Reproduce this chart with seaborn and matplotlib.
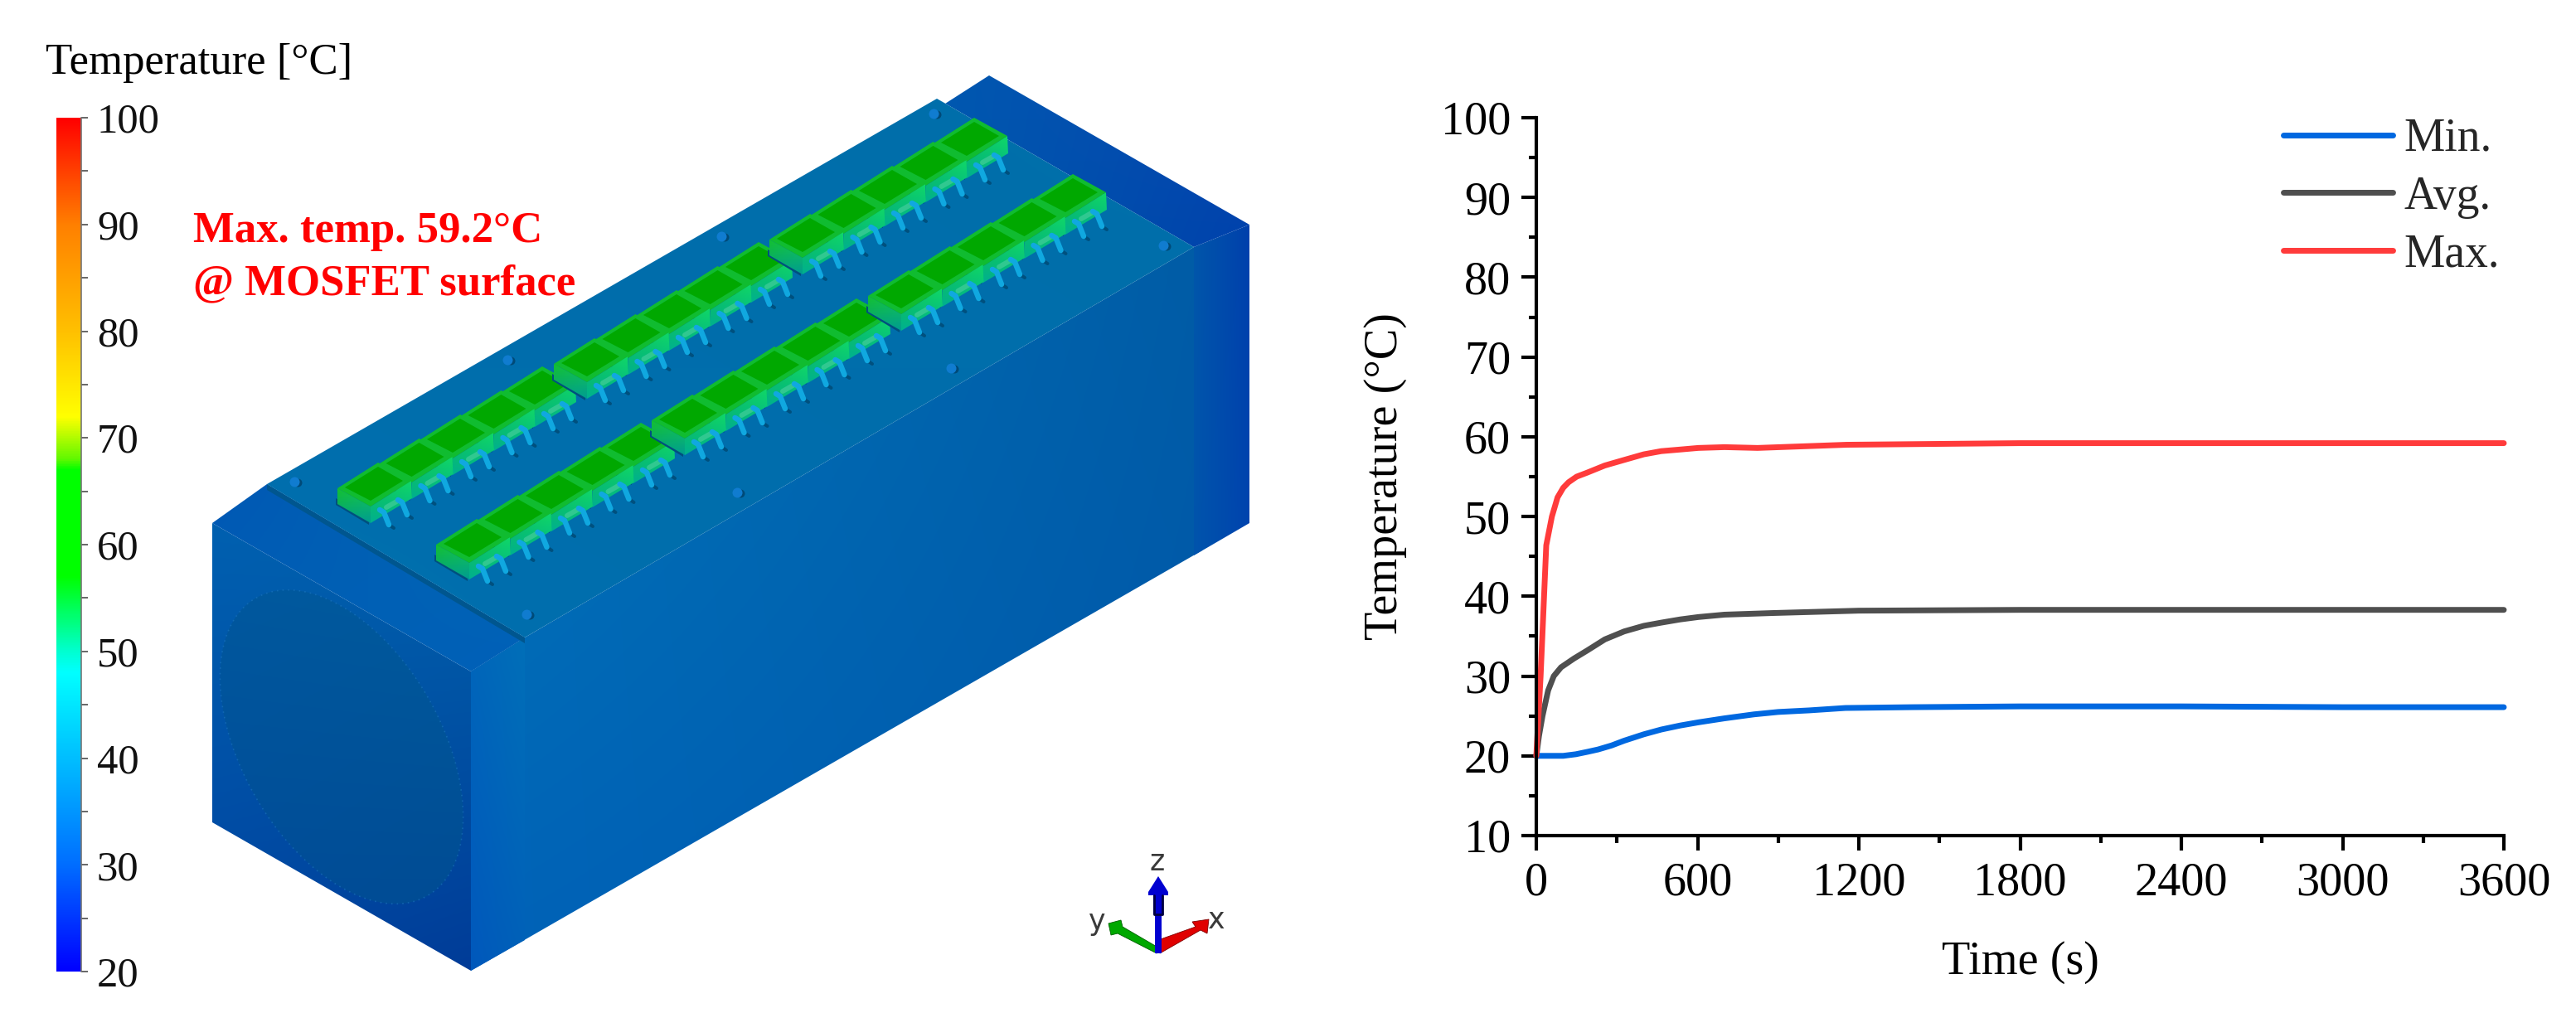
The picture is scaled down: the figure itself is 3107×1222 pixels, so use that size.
import numpy as np
import pandas as pd
import matplotlib
matplotlib.use("Agg")
import matplotlib.pyplot as plt
from matplotlib.colors import LinearSegmentedColormap, to_rgb
from matplotlib.patches import Polygon
from matplotlib.ticker import MultipleLocator
import seaborn as sns

# ---------- data ----------
min_t = [0, 50, 100, 147, 190, 230, 280, 327, 400, 465, 535, 603, 700, 810, 900, 1016, 1150, 1400, 1800, 2400, 3000, 3600]
min_v = [20.0, 20.0, 20.0, 20.2, 20.5, 20.8, 21.3, 21.9, 22.7, 23.3, 23.8, 24.2, 24.7, 25.2, 25.5, 25.7, 26.0, 26.1, 26.2, 26.2, 26.1, 26.1]
avg_t = [0, 10, 23, 44, 65, 92, 140, 189, 255, 327, 400, 465, 535, 603, 700, 878, 1200, 1800, 2400, 3000, 3600]
avg_v = [20.0, 22.5, 25.0, 28.2, 30.0, 31.1, 32.2, 33.2, 34.6, 35.6, 36.3, 36.7, 37.1, 37.4, 37.7, 37.9, 38.2, 38.3, 38.3, 38.3, 38.3]
max_t = [0, 8, 16, 37, 58, 79, 100, 120, 150, 189, 255, 327, 400, 465, 535, 603, 700, 823, 1155, 1800, 2400, 3000, 3600]
max_v = [20.0, 25.0, 30.0, 46.4, 50.0, 52.4, 53.6, 54.3, 55.0, 55.5, 56.4, 57.1, 57.8, 58.2, 58.4, 58.6, 58.7, 58.6, 59.0, 59.2, 59.2, 59.2, 59.2]
series_names = ["Min.", "Avg.", "Max."]
series_colors = ["#0068E0", "#4F4F4F", "#FF3B3B"]
x_ticks = [0, 600, 1200, 1800, 2400, 3000, 3600]
y_ticks = [10, 20, 30, 40, 50, 60, 70, 80, 90, 100]
cbar_ticks = [20, 30, 40, 50, 60, 70, 80, 90, 100]
cbar_stops = [20, 30, 40, 48, 50, 57, 67, 68, 72, 80, 90, 100]
cbar_colors = ["#0000FF", "#006EFF", "#00BEFF", "#00FFFF", "#00FFD0", "#00FF00", "#00FF00",
               "#60F800", "#FFFF00", "#FFC000", "#FF8000", "#FF0000"]

W, H = 3107, 1222
sns.set_theme(style="ticks")
serif = ["Liberation Serif", "DejaVu Serif"]
plt.rcParams["font.family"] = serif
plt.rcParams["mathtext.fontset"] = "stix"

fig = plt.figure(figsize=(W / 100, H / 100), dpi=100, facecolor="white")


def rect(l, t, r, b):
    return [l / W, 1 - b / H, (r - l) / W, (b - t) / H]


PX = 72 / 100  # one pixel in points

# ---------- illustration layer (pixel space) ----------
art = fig.add_axes([0, 0, 1, 1], zorder=0)
art.set_xlim(0, W)
art.set_ylim(H, 0)
art.axis("off")


def grad(pts, tl, tr, bl, br, z=1):
    """Polygon filled with a bilinear gradient across its bounding box."""
    pts = np.asarray(pts, float)
    x0, y0 = pts.min(0)
    x1, y1 = pts.max(0)
    u, v = np.meshgrid(np.linspace(0, 1, 80), np.linspace(0, 1, 80))
    c = [np.array(to_rgb(k)) for k in (tl, tr, bl, br)]
    img = ((1 - u)[..., None] * (1 - v)[..., None] * c[0] + u[..., None] * (1 - v)[..., None] * c[1]
           + (1 - u)[..., None] * v[..., None] * c[2] + u[..., None] * v[..., None] * c[3])
    im = art.imshow(img, extent=(x0, x1, y1, y0), aspect="auto", zorder=z, interpolation="bilinear")
    patch = Polygon(pts, closed=True, transform=art.transData, fc="none", ec="none")
    art.add_patch(patch)
    im.set_clip_path(patch)


A, B, C, D = (256, 631), (256, 992), (568, 1171), (568, 810)
E, F, G = (1507, 271), (1507, 631), (1193, 91)
P1, P2, P3, P4 = (322, 584), (1130, 119), (1440, 298), (633, 769)

# right face
grad([D, (633, 769), (1440, 298), (1450, 300), (1450, 664), C], "#0078B8", "#005CA6", "#0062B8", "#0058AC", z=1)
# strip next to the front flange
grad([D, (633, 769), (633, 1134), C], "#0066BA", "#006FB8", "#0058BC", "#0060B8", z=2)
# back flange side
grad([(1440, 298), E, F, (1440, 670)], "#0056AA", "#0040AC", "#0054AC", "#0044AE", z=2)
# top back flange
grad([P2, (1140, 125), G, E, (1440, 298), P3], "#0058B0", "#0848B0", "#0058AC", "#0042AC", z=2)
# front face
grad([A, B, C, D], "#0060B0", "#0062AC", "#0044A0", "#003C98", z=2)
# front flange on top
grad([A, P1, P4, D], "#0058B4", "#0068B4", "#0060B4", "#0060B8", z=3)
# circle on front face
theta = np.radians(np.arange(0, 360, 3))
ux, uy = np.subtract(D, A)
vy = B[1] - A[1]
cx, cy = 412, 901
circ = np.c_[cx + .47 * np.cos(theta) * ux, cy + .47 * np.cos(theta) * uy + .47 * np.sin(theta) * vy]
grad(circ, "#00589E", "#005A9C", "#004C98", "#004C94", z=3)
art.plot(*np.r_[circ, circ[:1]].T, color="#1E78C0", lw=1.2, ls=(0, (1, 3)), alpha=.55, zorder=3)

# base plate
art.add_patch(Polygon([(322, 591), P1, P4, (633, 776)], closed=True, fc="#00568F", ec="none", zorder=4))
grad([P1, P2, P3, P4], "#006CAC", "#0070AA", "#0070AE", "#006CAC", z=5)

# screw holes
holes = [(355, 581), (612, 434), (870, 285), (1126, 137), (635, 741), (889, 594), (1147, 444), (1403, 296)]
for hx, hy in holes:
    art.plot(hx + 4, hy + 1, "o", ms=5 * PX * 2, color="#004A78", mew=0, zorder=5.5)
    art.plot(hx, hy, "o", ms=6 * PX * 2, color="#107CD0", mew=0, zorder=5.6)

# MOSFET rows
groups = [(407, 589), (668, 439), (928, 289), (526, 657), (786, 507), (1047, 357)]
STEP = (49.5, -29)
COUNT = 5


def chip(lx, ly, z):
    p = lambda dx, dy: (lx + dx, ly + dy)
    # shadow
    art.add_patch(Polygon([p(-2, 12), p(38, 36), p(38, 44), p(-2, 20)], closed=True, fc="#00507E", ec="none", zorder=z))
    # left side
    grad([p(0, 0), p(40, 22), p(40, 42), p(0, 19)], "#14C030", "#14C850", "#00A088", "#009C90", z=z + .1)
    # right side
    grad([p(40, 22), p(89, -9), p(90, 12), p(40, 42)], "#10C850", "#10D868", "#00B090", "#00B090", z=z + .1)
    # top rim and top
    art.add_patch(Polygon([p(0, 0), p(49, -31), p(89, -9), p(40, 22)], closed=True, fc="#10BC30", ec="none", zorder=z + .2))
    art.add_patch(Polygon([p(9, -1), p(49, -26), p(79, -9), p(40, 15)], closed=True, fc="#00A800", ec="none", zorder=z + .3))
    # pins
    art.plot([lx + 59, lx + 73], [ly + 23, ly + 15], color="#30C890", lw=6 * PX, zorder=z + .35)
    for (a, b), (c, d) in [((51, 26), (62, 44)), ((73, 14), (84, 32))]:
        art.plot([lx + c, lx + c + 6], [ly + d, ly + d + 4], color="#00507E", lw=4 * PX, zorder=z + .35)
        art.plot([lx + a, lx + a + 5, lx + c], [ly + b, ly + b + 3, ly + d], color="#10A8E0", lw=6.5 * PX,
                 solid_capstyle="round", zorder=z + .4)


for gx, gy in groups:
    for k in range(COUNT):
        chip(gx + k * STEP[0], gy + k * STEP[1], 6 + (COUNT - 1 - k) * .5)

# coordinate triad
art.add_patch(Polygon([(1337, 1114), (1352, 1110), (1354, 1118), (1402, 1146), (1395, 1150), (1348, 1126), (1340, 1128)],
                      closed=True, fc="#00A800", ec="#006000", lw=.6, zorder=12))
art.add_patch(Polygon([(1458, 1109), (1456, 1126), (1448, 1122), (1399, 1150), (1397, 1134), (1442, 1118), (1438, 1112)],
                      closed=True, fc="#E00000", ec="#800000", lw=.6, zorder=12))
art.add_patch(Polygon([(1393, 1150), (1393, 1103), (1391, 1103), (1391, 1080), (1385, 1080), (1385, 1076),
                       (1397, 1057), (1409, 1076), (1409, 1080), (1403, 1080), (1403, 1103), (1401, 1103), (1401, 1150)],
                      closed=True, fc="#0000D0", ec="none", zorder=13))
art.plot([1392, 1392, 1402, 1402], [1080, 1103, 1103, 1080], color="#000040", lw=2, zorder=13.5)
for txt, tx, ty in [("z", 1396, 1040), ("x", 1467, 1110), ("y", 1323, 1112)]:
    art.text(tx, ty, txt, family=["DejaVu Sans"], fontsize=25, color="#3A3A3A", ha="center", va="center", zorder=14)

# texts on the left panel
art.text(55, 76, "Temperature [°C]", fontsize=38, color="black", ha="left", va="center", zorder=14)
art.text(233, 279, "Max. temp. 59.2°C", fontsize=38, fontweight="bold", color="#FF0000", ha="left", va="center", zorder=14)
art.text(233, 342, "@ MOSFET surface", fontsize=38, fontweight="bold", color="#FF0000", ha="left", va="center", zorder=14)

# ---------- colour bar ----------
cax = fig.add_axes(rect(68, 142, 98, 1172), zorder=2)
cmap = LinearSegmentedColormap.from_list(
    "fluent", [((s - 20) / 80, c) for s, c in zip(cbar_stops, cbar_colors)], N=512)
levels = np.linspace(20, 100, 513)
cax.pcolormesh([0, 1], levels, ((levels[:-1] + levels[1:]) / 2)[:, None], cmap=cmap, vmin=20, vmax=100, rasterized=True)
cax.set_ylim(20, 100)
cax.set_xlim(0, 1)
cax.set_xticks([])
cax.yaxis.tick_right()
cax.set_yticks(cbar_ticks)
cax.set_yticklabels([str(v) for v in cbar_ticks], fontsize=36.5, color="#111111")
cax.yaxis.set_minor_locator(MultipleLocator(5))
cax.tick_params(axis="y", which="major", length=8 * PX, width=1.4, color="#666666", pad=11 * PX)
cax.tick_params(axis="y", which="minor", length=8 * PX, width=1.4, color="#666666")
for name, s in cax.spines.items():
    s.set_visible(name == "right")
    s.set_color("#777777")
    s.set_linewidth(1.2)

# ---------- temperature curves ----------
ax = fig.add_axes(rect(1853, 142, 3020, 1008), zorder=3)
ax.patch.set_alpha(0)
df = pd.concat([
    pd.DataFrame({"Time": t, "Temperature": v, "Series": n})
    for t, v, n in zip([min_t, avg_t, max_t], [min_v, avg_v, max_v], series_names)
])
sns.lineplot(data=df, x="Time", y="Temperature", hue="Series", hue_order=series_names,
             palette=series_colors, estimator=None, errorbar=None, sort=False, lw=5,
             solid_capstyle="round", ax=ax, clip_on=False)
ax.set_xlim(0, 3600)
ax.set_ylim(10, 100)
ax.set_xticks(x_ticks)
ax.set_yticks(y_ticks)
ax.xaxis.set_minor_locator(MultipleLocator(300))
ax.yaxis.set_minor_locator(MultipleLocator(5))
ax.tick_params(axis="both", which="major", length=18 * PX, width=3, color="black",
               labelsize=40.5, labelcolor="black", pad=13 * PX)
ax.tick_params(axis="both", which="minor", length=9 * PX, width=3, color="black")
sns.despine(ax=ax)
for s in ("left", "bottom"):
    ax.spines[s].set_linewidth(3)
    ax.spines[s].set_color("black")
ax.set_xlabel("Time (s)", fontsize=40.5, color="black", labelpad=32)
ax.set_ylabel("Temperature (°C)", fontsize=40.5, color="black", labelpad=29)

ax.legend(title=None, frameon=False, fontsize=40, loc="upper right",
          bbox_to_anchor=(0.996, 1.0), borderpad=0, borderaxespad=0,
          handlelength=2.38, handletextpad=.25, labelspacing=.315)

fig.savefig("out.png", dpi=100, facecolor="white")
